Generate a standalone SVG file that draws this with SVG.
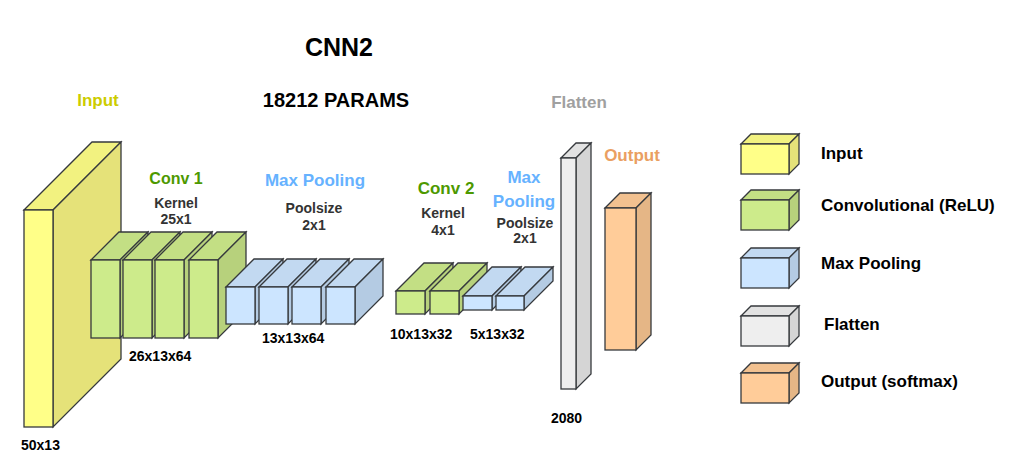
<svg xmlns="http://www.w3.org/2000/svg" width="1026" height="472" viewBox="0 0 1026 472">
<style>
  .s{stroke:#36393d;stroke-width:1.3;stroke-linejoin:miter}
  .yf{fill:#ffff88}.yt{fill:#f2f280}.ys{fill:#e5e279}
  .gf{fill:#cdeb8b}.gt{fill:#c3df84}.gs{fill:#b7d17c}
  .bf{fill:#cce5ff}.bt{fill:#c2d9f1}.bs{fill:#b4cbe3}
  .wf{fill:#eeeeee}.wt{fill:#e2e2e2}.ws{fill:#d5d5d5}
  .of{fill:#ffcc99}.ot{fill:#f2c190}.os{fill:#e5b686}
  text{font-family:"Liberation Sans",Arial,Helvetica,sans-serif;font-weight:bold}
  .title{font-size:25px;fill:#000;text-anchor:middle}
  .params{font-size:20px;fill:#000;text-anchor:middle}
  .lbl{font-size:17px;text-anchor:middle}
  .sub{font-size:14px;fill:#333333;text-anchor:middle}
  .dim{font-size:14px;fill:#000}
  .leg{font-size:17px;fill:#000}
</style>
<g id="title">
  <text class="title" x="339" y="56">CNN2</text>
  <text class="params" x="336" y="107">18212 PARAMS</text>
</g>
<g id="input">
  <text class="lbl" x="98" y="106" style="fill:#cccc00">Input</text>
  <path class="s yt" d="M24,210 L92,142 L121,142 L53,210 Z"/>
  <path class="s ys" d="M53,210 L121,142 L121,359 L53,427 Z"/>
  <rect class="s yf" x="24" y="210" width="29" height="217"/>
  <text class="dim" x="21" y="450">50x13</text>
</g>
<g id="conv1">
  <text class="lbl" x="176" y="184" style="fill:#4d9900;font-size:16px">Conv 1</text>
  <text class="sub" x="176" y="208">Kernel</text>
  <text class="sub" x="176" y="224">25x1</text>
  <path class="s gt" d="M91,260 L119,232 L148,232 L120,260 Z"/>
  <path class="s gs" d="M120,260 L148,232 L148,310 L120,338 Z"/>
  <rect class="s gf" x="91" y="260" width="29" height="78"/>
  <path class="s gt" d="M123,260 L151,232 L180,232 L152,260 Z"/>
  <path class="s gs" d="M152,260 L180,232 L180,310 L152,338 Z"/>
  <rect class="s gf" x="123" y="260" width="29" height="78"/>
  <path class="s gt" d="M155,260 L183,232 L212,232 L184,260 Z"/>
  <path class="s gs" d="M184,260 L212,232 L212,310 L184,338 Z"/>
  <rect class="s gf" x="155" y="260" width="29" height="78"/>
  <path class="s gt" d="M189,260 L217,232 L246,232 L218,260 Z"/>
  <path class="s gs" d="M218,260 L246,232 L246,310 L218,338 Z"/>
  <rect class="s gf" x="189" y="260" width="29" height="78"/>
  <text class="dim" x="129" y="361">26x13x64</text>
</g>
<g id="pool1">
  <text class="lbl" x="315" y="186" style="fill:#66b2ff">Max Pooling</text>
  <text class="sub" x="314" y="213">Poolsize</text>
  <text class="sub" x="314" y="230">2x1</text>
  <path class="s bt" d="M226,287 L254,259 L283,259 L255,287 Z"/>
  <path class="s bs" d="M255,287 L283,259 L283,296 L255,324 Z"/>
  <rect class="s bf" x="226" y="287" width="29" height="37"/>
  <path class="s bt" d="M259,287 L287,259 L316,259 L288,287 Z"/>
  <path class="s bs" d="M288,287 L316,259 L316,296 L288,324 Z"/>
  <rect class="s bf" x="259" y="287" width="29" height="37"/>
  <path class="s bt" d="M292,287 L320,259 L349,259 L321,287 Z"/>
  <path class="s bs" d="M321,287 L349,259 L349,296 L321,324 Z"/>
  <rect class="s bf" x="292" y="287" width="29" height="37"/>
  <path class="s bt" d="M326,287 L354,259 L383,259 L355,287 Z"/>
  <path class="s bs" d="M355,287 L383,259 L383,296 L355,324 Z"/>
  <rect class="s bf" x="326" y="287" width="29" height="37"/>
  <text class="dim" x="262" y="343">13x13x64</text>
</g>
<g id="conv2">
  <text class="lbl" x="446" y="194" style="fill:#4d9900">Conv 2</text>
  <text class="sub" x="443" y="218">Kernel</text>
  <text class="sub" x="443" y="235">4x1</text>
  <path class="s gt" d="M396,291 L424,263 L453,263 L425,291 Z"/>
  <path class="s gs" d="M425,291 L453,263 L453,286 L425,314 Z"/>
  <rect class="s gf" x="396" y="291" width="29" height="23"/>
  <path class="s gt" d="M430,291 L458,263 L487,263 L459,291 Z"/>
  <path class="s gs" d="M459,291 L487,263 L487,286 L459,314 Z"/>
  <rect class="s gf" x="430" y="291" width="29" height="23"/>
  <text class="dim" x="390" y="339">10x13x32</text>
</g>
<g id="pool2">
  <text class="lbl" x="524" y="183" style="fill:#66b2ff">Max</text>
  <text class="lbl" x="524" y="207" style="fill:#66b2ff">Pooling</text>
  <text class="sub" x="525" y="228">Poolsize</text>
  <text class="sub" x="525" y="243">2x1</text>
  <path class="s bt" d="M463,296 L492,267 L521,267 L492,296 Z"/>
  <path class="s bs" d="M492,296 L521,267 L521,281 L492,310 Z"/>
  <rect class="s bf" x="463" y="296" width="29" height="14"/>
  <path class="s bt" d="M496,296 L525,267 L553,267 L524,296 Z"/>
  <path class="s bs" d="M524,296 L553,267 L553,281 L524,310 Z"/>
  <rect class="s bf" x="496" y="296" width="28" height="14"/>
  <text class="dim" x="470" y="339">5x13x32</text>
</g>
<g id="flatten">
  <text class="lbl" x="579" y="108" style="fill:#a0a0a0">Flatten</text>
  <path class="s wt" d="M561,158 L576,143 L591,143 L576,158 Z"/>
  <path class="s ws" d="M576,158 L591,143 L591,374 L576,389 Z"/>
  <rect class="s wf" x="561" y="158" width="15" height="231"/>
  <text class="dim" x="551" y="423">2080</text>
</g>
<g id="output">
  <text class="lbl" x="632" y="161" style="fill:#ea9f62">Output</text>
  <path class="s ot" d="M605,208 L620,193 L651,193 L636,208 Z"/>
  <path class="s os" d="M636,208 L651,193 L651,335 L636,350 Z"/>
  <rect class="s of" x="605" y="208" width="31" height="142"/>
</g>
<g id="legend">
  <g id="leg-input">
    <path class="s yt" d="M741,144 L751,134 L799,134 L789,144 Z"/>
    <path class="s ys" d="M789,144 L799,134 L799,164 L789,174 Z"/>
    <rect class="s yf" x="741" y="144" width="48" height="30"/>
    <text class="leg" x="821" y="159">Input</text>
  </g>
  <g id="leg-conv">
    <path class="s gt" d="M741,200 L751,190 L799,190 L789,200 Z"/>
    <path class="s gs" d="M789,200 L799,190 L799,220 L789,230 Z"/>
    <rect class="s gf" x="741" y="200" width="48" height="30"/>
    <text class="leg" x="821" y="211">Convolutional (ReLU)</text>
  </g>
  <g id="leg-pool">
    <path class="s bt" d="M741,258 L751,248 L799,248 L789,258 Z"/>
    <path class="s bs" d="M789,258 L799,248 L799,278 L789,288 Z"/>
    <rect class="s bf" x="741" y="258" width="48" height="30"/>
    <text class="leg" x="821" y="269">Max Pooling</text>
  </g>
  <g id="leg-flatten">
    <path class="s wt" d="M741,316 L751,306 L799,306 L789,316 Z"/>
    <path class="s ws" d="M789,316 L799,306 L799,336 L789,346 Z"/>
    <rect class="s wf" x="741" y="316" width="48" height="30"/>
    <text class="leg" x="824" y="330">Flatten</text>
  </g>
  <g id="leg-output">
    <path class="s ot" d="M741,373 L751,363 L799,363 L789,373 Z"/>
    <path class="s os" d="M789,373 L799,363 L799,393 L789,403 Z"/>
    <rect class="s of" x="741" y="373" width="48" height="30"/>
    <text class="leg" x="821" y="387">Output (softmax)</text>
  </g>
</g>
<g id="connectors"></g>
</svg>
